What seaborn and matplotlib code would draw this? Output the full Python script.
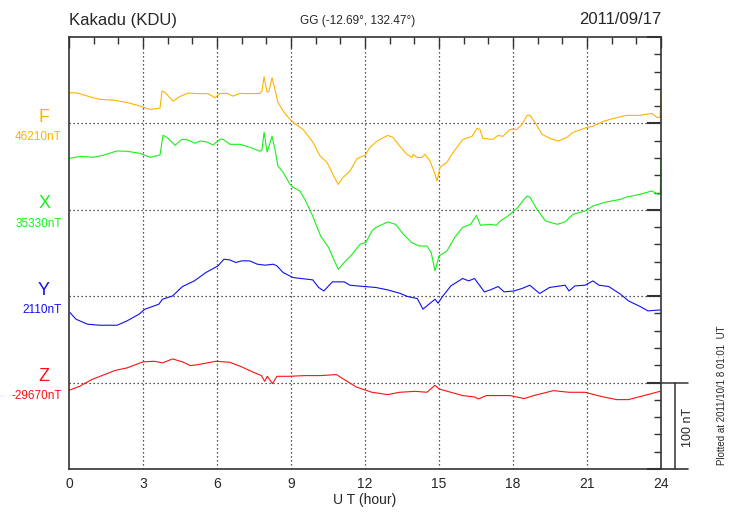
import matplotlib
matplotlib.use("Agg")
import matplotlib.pyplot as plt
import seaborn as sns
import pandas as pd
import numpy as np

# ---------------- data (deviation from baseline, nT) ----------------
components = ["F", "X", "Y", "Z"]
baselines = ["46210nT", "35330nT", "2110nT", "-29670nT"]

f_hour = [0.04, 0.36, 0.97, 1.26, 1.78, 2.35, 2.88, 3.28, 3.69, 3.77, 3.89, 4.22, 4.50, 4.82,
          5.31, 5.64, 5.92, 6.12, 6.41, 6.65, 6.93, 7.34, 7.74, 7.82, 7.91, 8.03, 8.11, 8.23,
          8.35, 8.47, 8.68, 8.96, 9.08, 9.49, 9.89, 10.18, 10.46, 10.70, 10.91, 11.11, 11.39,
          11.68, 12.00, 12.20, 12.49, 12.69, 12.93, 13.13, 13.42, 13.70, 13.91, 13.95, 14.11,
          14.31, 14.43, 14.64, 14.84, 14.92, 15.04, 15.32, 15.57, 15.97, 16.34, 16.54, 16.66,
          16.78, 17.19, 17.39, 17.59, 17.88, 18.16, 18.36, 18.57, 18.69, 18.89, 19.18, 19.50,
          19.82, 20.19, 20.43, 21.00, 21.24, 21.65, 22.22, 22.62, 23.15, 23.63, 23.84, 23.96, 24.0]
f_dev = [35.5, 35.1, 29.7, 27.8, 27.0, 24.3, 20.0, 16.2, 17.7, 37.4, 35.9, 25.8, 31.2, 35.1,
         34.4, 34.4, 29.7, 34.7, 34.7, 31.6, 34.7, 34.4, 34.7, 37.4, 54.1, 36.2, 37.4, 52.9,
         39.4, 24.3, 14.2, 4.6, 1.2, -6.9, -22.0, -37.8, -45.1, -59.0, -70.6, -62.5, -55.2,
         -40.5, -37.0, -27.8, -20.5, -17.4, -13.9, -16.2, -26.6, -35.9, -39.4, -35.9, -39.4,
         -39.4, -35.9, -43.6, -59.0, -66.8, -50.9, -45.1, -33.6, -18.5, -15.0, -5.8, -6.9,
         -17.4, -18.5, -13.9, -15.0, -6.9, -6.9, -1.2, 9.3, 9.3, 1.2, -12.7, -17.4,
         -20.5, -16.2, -10.4, -4.6, -3.5, 2.3, 6.9, 9.3, 9.3, 11.6, 6.9, 6.9, 35.9]

x_hour = [0.04, 0.45, 0.97, 1.38, 1.95, 2.35, 2.88, 3.28, 3.69, 3.81, 3.97, 4.30, 4.58, 4.82,
          5.11, 5.31, 5.59, 5.84, 6.12, 6.24, 6.53, 6.93, 7.34, 7.74, 7.82, 7.91, 8.03, 8.11,
          8.23, 8.35, 8.47, 8.68, 8.96, 9.08, 9.36, 9.56, 9.69, 9.88, 10.20, 10.52, 10.76,
          10.92, 11.16, 11.48, 11.80, 12.04, 12.28, 12.45, 12.92, 13.24, 13.56, 13.88, 14.04,
          14.20, 14.51, 14.68, 14.84, 15.00, 15.32, 15.64, 15.96, 16.28, 16.52, 16.68, 17.08,
          17.32, 17.48, 17.72, 17.88, 18.20, 18.45, 18.57, 18.69, 18.97, 19.32, 19.80, 20.11,
          20.43, 20.92, 21.24, 21.73, 22.36, 22.62, 23.15, 23.63, 23.88, 23.97, 24.0]
x_dev = [59.6, 61.9, 60.8, 63.1, 68.1, 67.7, 65.4, 60.8, 63.4, 86.2, 83.9, 74.7, 81.6, 80.8,
         77.0, 79.6, 78.5, 75.0, 81.6, 81.6, 75.8, 75.8, 72.3, 67.7, 69.2, 89.7, 66.9, 73.8,
         85.1, 70.0, 50.7, 43.4, 29.5, 26.0, 21.8, 12.2, 4.4, -7.2, -30.3, -43.4, -59.3,
         -68.9, -60.8, -51.5, -39.9, -37.6, -24.5, -20.3, -14.1, -16.8, -28.4, -37.6, -39.9,
         -41.9, -41.9, -49.2, -70.8, -53.5, -47.7, -31.8, -20.3, -16.8, -6.4, -17.9, -16.8,
         -17.9, -13.0, -8.7, -5.2, 2.9, 12.2, 16.0, 14.5, 0.6, -13.0, -16.8, -14.1,
         -5.2, -1.4, 4.4, 8.7, 12.2, 14.8, 17.9, 21.8, 17.9, 18.5, 59.0]

y_hour = [0.04, 0.28, 0.75, 1.24, 1.95, 2.35, 2.84, 3.08, 3.64, 3.79, 4.20, 4.60, 5.08, 5.55,
          6.04, 6.28, 6.52, 6.76, 7.00, 7.32, 7.64, 7.96, 8.28, 8.43, 8.68, 9.08, 9.88, 10.12,
          10.33, 10.68, 11.16, 11.39, 11.96, 12.44, 12.92, 13.40, 13.72, 14.12, 14.35, 14.59,
          14.84, 14.96, 15.16, 15.48, 15.96, 16.20, 16.44, 16.84, 17.08, 17.40, 17.64, 18.04,
          18.36, 18.68, 19.08, 19.48, 20.11, 20.27, 20.51, 20.92, 21.24, 21.49, 21.88, 22.36,
          22.68, 23.15, 23.47, 23.96]
y_dev = [-18.9, -26.6, -32.4, -33.6, -33.6, -28.6, -20.8, -15.0, -9.3, -3.5, 0.3, 11.2, 17.7, 27.4,
         35.1, 42.8, 42.0, 39.0, 40.9, 40.9, 37.0, 35.9, 37.0, 35.1, 27.4, 21.6, 18.9, 10.1,
         6.1, 16.6, 16.6, 12.7, 11.2, 10.1, 7.3, 3.5, -0.3, -2.7, -15.0, -9.3,
         -3.5, -8.1, 0.3, 11.9, 20.5, 17.7, 20.5, 5.0, 7.3, 11.2, 5.0, 6.1,
         8.9, 12.7, 3.1, 10.1, 12.7, 6.1, 11.9, 12.7, 17.7, 12.7, 11.2, 2.3,
         -5.4, -11.9, -17.0, -15.9]

z_hour = [0.0, 0.43, 0.92, 1.88, 2.35, 3.00, 3.47, 3.79, 4.20, 4.60, 4.92, 5.23, 5.96, 6.52,
          7.00, 7.48, 7.80, 7.93, 8.04, 8.25, 8.43, 8.92, 9.56, 10.20, 10.84, 11.16, 11.64,
          12.28, 12.92, 13.40, 14.04, 14.51, 14.84, 15.00, 15.48, 15.96, 16.44, 16.60, 16.92,
          17.40, 17.88, 18.45, 18.84, 19.64, 20.27, 20.92, 21.56, 22.20, 22.68, 23.31, 23.96]
z_dev = [-8.9, -4.3, 3.5, 14.2, 17.0, 24.0, 24.7, 22.8, 27.4, 24.0, 19.7, 20.8, 24.7, 23.5,
         18.2, 11.9, 8.1, 1.5, 7.3, -1.2, 7.3, 7.3, 8.1, 8.1, 9.3, 3.5, -5.0,
         -11.2, -13.9, -11.2, -10.1, -11.2, -3.1, -7.3, -11.2, -15.0, -16.6, -18.9, -15.0,
         -15.0, -15.0, -18.5, -15.0, -9.3, -11.2, -11.2, -15.9, -19.7, -19.7, -15.0, -10.1]

x_ticks = [0, 3, 6, 9, 12, 15, 18, 21, 24]

# ---------------- styling ----------------
colors = {"F": "#FFB300", "X": "#18F018", "Y": "#1010F0", "Z": "#FF1010"}
offsets = {"F": 400, "X": 300, "Y": 200, "Z": 100}

sns.set_theme(style="white")
plt.rcParams["font.family"] = ["Liberation Sans", "DejaVu Sans"]

hours = {"F": f_hour, "X": x_hour, "Y": y_hour, "Z": z_hour}
devs = {"F": f_dev, "X": x_dev, "Y": y_dev, "Z": z_dev}
frames = []
for c in components:
    frames.append(pd.DataFrame({"hour": hours[c],
                                "value": np.array(devs[c]) + offsets[c],
                                "component": c}))
df = pd.concat(frames, ignore_index=True)

W, H = 730, 520
fig = plt.figure(figsize=(W / 100, H / 100), dpi=100)
L, R, T, B = 69, 661, 37, 469
ax = fig.add_axes([L / W, 1 - B / H, (R - L) / W, (B - T) / H])

sns.lineplot(data=df, x="hour", y="value", hue="component", palette=colors,
             estimator=None, sort=False, legend=False, linewidth=0.8, ax=ax)

ax.set_xlim(0, 24)
ax.set_ylim(0, 500)
ax.set_xticks(x_ticks)
ax.set_xticklabels([str(t) for t in x_ticks], fontsize=10)
ax.set_xticks(range(0, 25), minor=True)
ax.set_yticks(range(0, 501, 100))
ax.set_yticklabels([])
ax.set_yticks(range(0, 501, 20), minor=True)
ax.tick_params(axis="both", which="both", direction="in", top=True, right=True,
               color="#333333")
ax.tick_params(axis="x", which="major", length=8, width=1, pad=6)
ax.tick_params(axis="x", which="minor", length=5, width=1)
ax.tick_params(axis="y", which="major", length=10, width=1.5)
ax.tick_params(axis="y", which="minor", length=5, width=1)
ax.set_xlabel("U T (hour)", fontsize=10, labelpad=1)
ax.set_ylabel("")
for s in ax.spines.values():
    s.set_color("#333333")
    s.set_linewidth(1.2)

for g in [3, 6, 9, 12, 15, 18, 21]:
    ax.axvline(g, color="#222222", linestyle=(0, (1, 2.2)), linewidth=0.9, zorder=0)
for g in [100, 200, 300, 400]:
    ax.axhline(g, color="#222222", linestyle=(0, (1, 2.2)), linewidth=0.9, zorder=0)

# component labels
for c, b in zip(components, baselines):
    ax.text(-0.042, offsets[c] + 7, c, transform=ax.get_yaxis_transform(),
            ha="center", va="center", fontsize=13, color=colors[c])
    ax.text(-0.012, offsets[c] - 16, b, transform=ax.get_yaxis_transform(),
            ha="right", va="center", fontsize=8.5, color=colors[c])

# scale bar (100 nT)
ext = 27 / 24.667
ax.plot([24, 24 + ext], [100, 100], color="#333333", lw=1.1, clip_on=False)
ax.plot([24, 24 + ext], [0, 0], color="#333333", lw=1.2, clip_on=False)
ax.plot([24 + 14 / 24.667] * 2, [0, 100], color="#333333", lw=1.1, clip_on=False)
fig.text(688 / W, 1 - 427 / H, "100 nT", rotation=90, ha="center", va="center", fontsize=9)

# titles
fig.text(L / W, 1 - 20 / H, "Kakadu (KDU)", ha="left", va="center", fontsize=12)
fig.text(358 / W, 1 - 21 / H, "GG (-12.69°, 132.47°)", ha="center", va="center", fontsize=8.5)
fig.text(R / W, 1 - 20 / H, "2011/09/17", ha="right", va="center", fontsize=12)
fig.text(722 / W, 1 - 395 / H, "Plotted at 2011/10/1 8 01:01  UT", rotation=90,
         ha="center", va="center", fontsize=7)

fig.savefig("out.png", dpi=100)
